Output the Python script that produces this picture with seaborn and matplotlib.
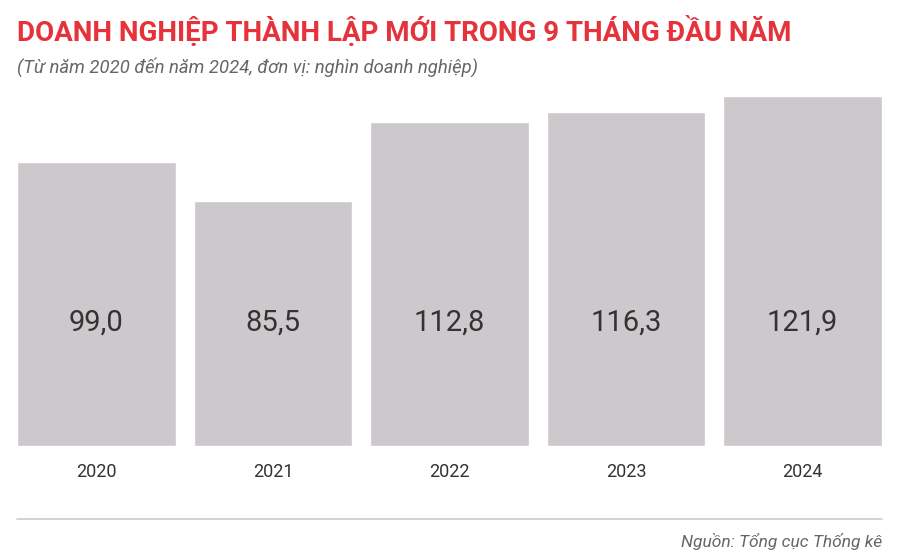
import matplotlib
matplotlib.use("Agg")
import matplotlib.pyplot as plt
import seaborn as sns
import pandas as pd

years = ["2020", "2021", "2022", "2023", "2024"]
values = [99.0, 85.5, 112.8, 116.3, 121.9]
labels = ["99,0", "85,5", "112,8", "116,3", "121,9"]

sns.set_theme(style="white")
plt.rcParams['font.family'] = ['Roboto', 'DejaVu Sans']

fig = plt.figure(figsize=(9, 5.6), dpi=100)
ax = fig.add_axes([8.25/900, 114/560, 882.5/900, 350/560])
df = pd.DataFrame({"year": years, "value": values})
sns.barplot(data=df, x="year", y="value", color="#ccc8cb", saturation=1, width=0.9, ax=ax)
ax.set_xlim(-0.5, 4.5)
ax.set_ylim(0, 121.9)
for i, (v, l) in enumerate(zip(values, labels)):
    ax.text(i, 43, l, ha="center", va="center", fontsize=21, color="#333333")
ax.set_xlabel(""); ax.set_ylabel(""); ax.set_yticks([])
ax.tick_params(axis="x", length=0, labelsize=13, colors="#333333", pad=12)
sns.despine(ax=ax, left=True, bottom=True)

fig.text(17/900, 1-31/560, "DOANH NGHIỆP THÀNH LẬP MỚI TRONG 9 THÁNG ĐẦU NĂM",
         weight="bold", fontsize=20, color="#e5323b", va="center")
fig.text(17/900, 1-67/560, "(Từ năm 2020 đến năm 2024, đơn vị: nghìn doanh nghiệp)",
         style="italic", fontsize=13.3, color="#666666", va="center")
fig.add_artist(plt.Line2D([17/900, 882/900], [1-519/560, 1-519/560], color="#cccccc", lw=1.2))
fig.text(882/900, 1-542/560, "Nguồn: Tổng cục Thống kê", style="italic", fontsize=12.5,
         color="#666666", ha="right", va="center")
fig.savefig("out.png", dpi=100)
